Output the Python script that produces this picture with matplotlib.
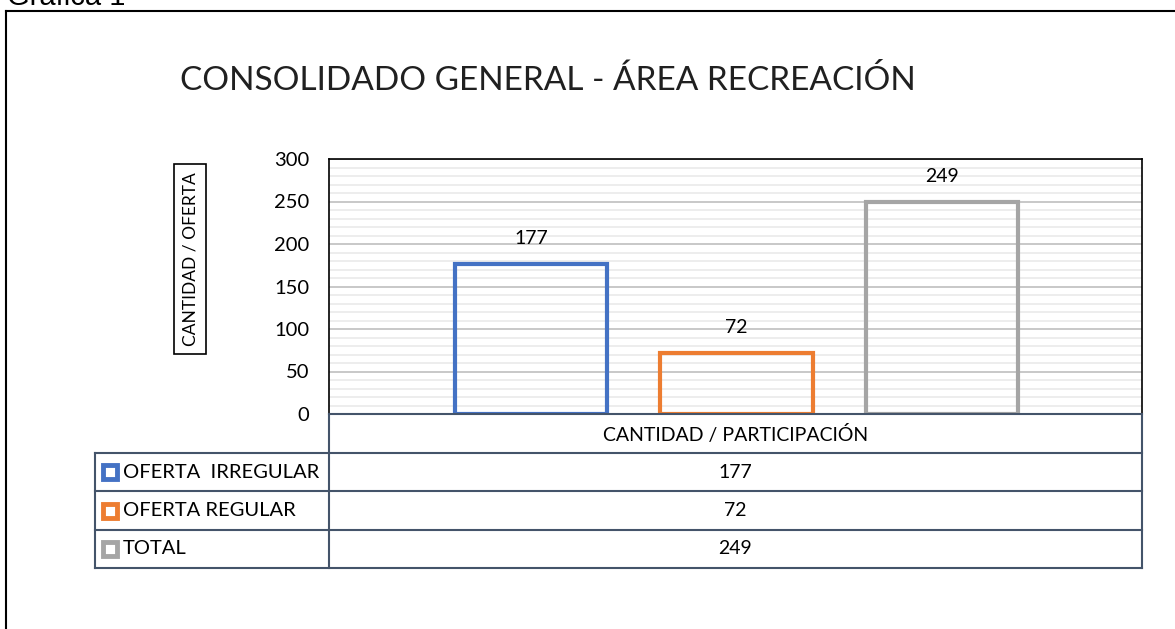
import matplotlib
matplotlib.use("Agg")
import matplotlib.pyplot as plt
from matplotlib.patches import Rectangle
from matplotlib.lines import Line2D

plt.rcParams['font.family'] = ['Lato', 'DejaVu Sans']

# data
series = ["OFERTA  IRREGULAR", "OFERTA REGULAR", "TOTAL"]
values = [177, 72, 249]
colors = ["#4472C4", "#ED7D31", "#A5A5A5"]
category = "CANTIDAD / PARTICIPACIÓN"
yticks = [0, 50, 100, 150, 200, 250, 300]

W, H = 1175, 629
fig = plt.figure(figsize=(W / 100, H / 100), dpi=100)


def fx(x):
    return x / W


def fy(y):
    return 1 - y / H


border = "#44546A"

# outer frame (goes off the right and bottom)
fig.add_artist(Line2D([fx(6), fx(6)], [fy(11), fy(640)], color="black", lw=1.5))
fig.add_artist(Line2D([fx(6), fx(1180)], [fy(11), fy(11)], color="black", lw=1.5))
fig.text(fx(7), fy(5), "Gráfica 1", fontsize=21, family=['Liberation Sans'], va="baseline", ha="left")

fig.text(fx(180), fy(80), "CONSOLIDADO GENERAL - ÁREA RECREACIÓN", fontsize=24,
         color="#202020", va="center", ha="left")

# plot area
left, right, top, bottom = 329, 1142, 159, 414
ax = fig.add_axes([fx(left), fy(bottom), fx(right - left), (bottom - top) / H])
x = list(range(len(values)))
ax.bar(x, values, width=0.74, facecolor="none", edgecolor=colors, linewidth=3, zorder=3)
for xi, v in zip(x, values):
    ax.text(xi, v + 30, str(v), ha="center", va="center", fontsize=14)
ax.set_xlim(-0.983, 2.973)
ax.set_ylim(0, 300)
ax.set_yticks(yticks)
ax.set_yticks(range(0, 301, 10), minor=True)
ax.grid(axis="y", which="major", color="#BFBFBF", lw=1.2, zorder=0)
ax.grid(axis="y", which="minor", color="#EAEAEA", lw=1.2, zorder=0)
ax.set_xticks([])
ax.tick_params(axis="y", which="both", length=0, labelsize=14.5, pad=14)
for s in ["left", "top", "right"]:
    ax.spines[s].set_color("black")
    ax.spines[s].set_linewidth(1.2)
ax.spines["bottom"].set_visible(False)

fig.text(fx(190), fy(259), "CANTIDAD / OFERTA", rotation=90, ha="center", va="center", fontsize=12.5,
         bbox=dict(boxstyle="square,pad=0.45", facecolor="white", edgecolor="black", lw=1.2))

# data table under the plot
rows_y = [414, 453, 491, 530, 568]
tleft = 95
lw = 1.5
fig.add_artist(Line2D([fx(left), fx(right)], [fy(414), fy(414)], color=border, lw=lw))
for ry in rows_y[1:]:
    fig.add_artist(Line2D([fx(tleft), fx(right)], [fy(ry), fy(ry)], color=border, lw=lw))
fig.add_artist(Line2D([fx(left), fx(left)], [fy(414), fy(568)], color=border, lw=lw))
fig.add_artist(Line2D([fx(right), fx(right)], [fy(414), fy(568)], color=border, lw=lw))
fig.add_artist(Line2D([fx(tleft), fx(tleft)], [fy(453), fy(568)], color=border, lw=lw))

mid = (left + right) / 2
fig.text(fx(mid), fy(434), category, ha="center", va="center", fontsize=14)
for i, (name, v, c) in enumerate(zip(series, values, colors)):
    cy = (rows_y[i + 1] + rows_y[i + 2]) / 2
    fig.add_artist(Rectangle((fx(103), fy(cy + 7)), fx(14), 14 / H, facecolor="white",
                             edgecolor=c, lw=3.5))
    fig.text(fx(123), fy(cy), name, ha="left", va="center", fontsize=14.5)
    fig.text(fx(mid), fy(cy), str(v), ha="center", va="center", fontsize=14)

fig.savefig("out.png", dpi=100)
